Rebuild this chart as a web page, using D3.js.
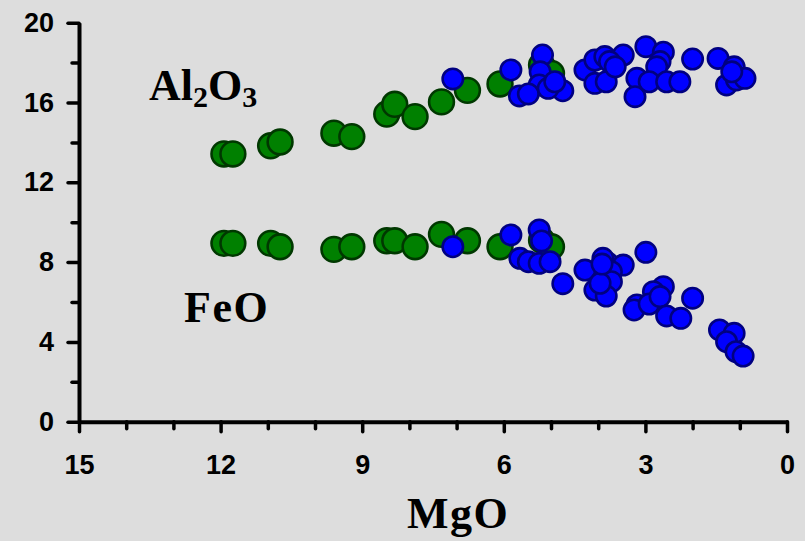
<!DOCTYPE html>
<html>
<head>
<meta charset="utf-8">
<script src="https://cdn.jsdelivr.net/npm/d3@7"></script>
<style>
  html, body { margin: 0; padding: 0; background: #dddddd; }
  svg { display: block; }
</style>
</head>
<body>
<svg id="chart" width="805" height="541"></svg>
<script>
// Lavas with MgO-rich (green) and evolved (blue) compositions, wt%
const greenMgO    = [11.93, 11.74, 10.94, 10.74, 9.60, 9.22, 8.48, 8.31, 7.88, 7.32, 6.77, 6.08, 5.20, 4.99];
const greenAl2O3  = [13.42, 13.42, 13.83, 14.02, 14.46, 14.29, 15.42, 15.91, 15.29, 16.03, 16.61, 16.93, 17.88, 17.46];
const greenFeO    = [8.94, 8.94, 8.94, 8.77, 8.64, 8.77, 9.07, 9.07, 8.77, 9.39, 9.07, 8.77, 9.10, 8.77];

const blueMgOAl   = [7.08, 5.85, 5.18, 5.23, 5.25, 5.67, 5.48, 4.75, 5.06, 4.92, 4.28, 4.07, 3.86, 3.47, 3.76, 4.07, 3.83, 3.64,
                     2.99, 2.62, 2.69, 2.76, 3.18, 3.22, 2.92, 2.55, 2.27, 2.00, 1.46, 1.12, 1.28, 1.07, 0.89, 1.17];
const blueAl2O3   = [17.18, 17.63, 18.38, 17.54, 16.88, 16.33, 16.43, 16.59, 16.71, 17.04, 17.63, 18.13, 18.30, 18.38, 18.05, 16.96, 17.04, 17.79,
                     18.80, 18.52, 18.05, 17.79, 17.21, 16.29, 17.04, 17.04, 17.04, 18.18, 18.21, 17.79, 16.88, 17.13, 17.21, 17.54];

const blueMgOFe   = [7.08, 5.85, 5.25, 5.20, 5.66, 5.48, 5.25, 5.02, 4.75, 4.28, 4.07, 3.79, 3.47, 3.72, 3.72, 3.83, 3.96, 3.90, 3.92,
                     2.99, 2.62, 2.83, 3.18, 3.24, 2.92, 2.69, 2.55, 2.25, 2.00, 1.43, 1.12, 1.28, 1.08, 0.93];
const blueFeO     = [8.77, 9.36, 9.61, 9.06, 8.19, 8.02, 7.94, 8.02, 6.92, 7.60, 6.60, 7.94, 7.85, 7.52, 7.02, 6.30, 6.94, 8.19, 7.90,
                     8.49, 6.77, 6.52, 5.85, 5.60, 5.90, 6.27, 5.30, 5.18, 6.19, 4.60, 4.43, 4.01, 3.51, 3.29];

const xMajorTicks = [15, 12, 9, 6, 3, 0];
const xMinorTicks = [14, 13, 11, 10, 8, 7, 5, 4, 2, 1];
const yMajorTicks = [0, 4, 8, 12, 16, 20];
const yMinorTicks = [2, 6, 10, 14, 18];

const svg = d3.select("#chart");

const x = d3.scaleLinear().domain([15, 0]).range([79, 787]);
const y = d3.scaleLinear().domain([0, 20]).range([421.7, 22.7]);

svg.append("rect").attr("width", 805).attr("height", 541).attr("fill", "#dddddd");

// Axes: minor ticks first, then major ticks with labels
function styleAxis(g, showDomain) {
  g.select(".domain").attr("stroke", showDomain ? "#000" : "none").attr("stroke-width", 4);
  g.selectAll(".tick line").attr("stroke", "#000").attr("stroke-width", 3.5).attr("stroke-linecap", "round");
  g.selectAll(".tick text")
    .attr("fill", "#000")
    .style("font-family", "'Liberation Sans', Arial, sans-serif")
    .style("font-weight", "bold")
    .style("font-size", "27px");
}

svg.append("g").attr("transform", `translate(0,${y(0)})`)
  .call(d3.axisBottom(x).tickValues(xMinorTicks).tickSize(7).tickSizeOuter(0).tickFormat(""))
  .call(g => styleAxis(g, false));
svg.append("g").attr("transform", `translate(0,${y(0)})`)
  .call(d3.axisBottom(x).tickValues(xMajorTicks).tickSize(10).tickSizeOuter(0).tickPadding(23).tickFormat(d3.format("d")))
  .call(g => styleAxis(g, true));

svg.append("g").attr("transform", `translate(${x(15)},0)`)
  .call(d3.axisLeft(y).tickValues(yMinorTicks).tickSize(7).tickSizeOuter(0).tickFormat(""))
  .call(g => styleAxis(g, false));
svg.append("g").attr("transform", `translate(${x(15)},0)`)
  .call(d3.axisLeft(y).tickValues(yMajorTicks).tickSize(11).tickSizeOuter(0).tickPadding(14).tickFormat(d3.format("d")))
  .call(g => styleAxis(g, true));

// Points
const greenAl = greenMgO.map((m, i) => [m, greenAl2O3[i]]);
const greenFe = greenMgO.map((m, i) => [m, greenFeO[i]]);
const blueAl = blueMgOAl.map((m, i) => [m, blueAl2O3[i]]);
const blueFe = blueMgOFe.map((m, i) => [m, blueFeO[i]]);

function drawPoints(data, r, fill, stroke) {
  svg.append("g").selectAll("circle").data(data).join("circle")
    .attr("cx", d => x(d[0]))
    .attr("cy", d => y(d[1]))
    .attr("r", r)
    .attr("fill", fill)
    .attr("stroke", stroke)
    .attr("stroke-width", 2.6);
}
drawPoints(greenAl, 12.4, "#008000", "#003800");
drawPoints(greenFe, 12.4, "#008000", "#003800");
drawPoints(blueAl, 10.2, "#0000ff", "#000080");
drawPoints(blueFe, 10.2, "#0000ff", "#000080");

// Labels
const serif = "'Liberation Serif', 'Times New Roman', serif";

const al = svg.append("text")
  .attr("x", 149).attr("y", 100)
  .style("font-family", serif).style("font-weight", "bold").style("font-size", "44px")
  .attr("fill", "#000");
al.append("tspan").text("Al");
al.append("tspan").text("2").style("font-size", "30px").attr("dy", 7);
al.append("tspan").text("O").attr("dy", -7);
al.append("tspan").text("3").style("font-size", "30px").attr("dy", 7);

svg.append("text")
  .attr("x", 184).attr("y", 322)
  .style("font-family", serif).style("font-weight", "bold").style("font-size", "44px")
  .style("letter-spacing", "1.5px")
  .attr("fill", "#000")
  .text("FeO");

svg.append("text")
  .attr("x", 407).attr("y", 528)
  .style("font-family", serif).style("font-weight", "bold").style("font-size", "44px")
  .style("letter-spacing", "1.5px")
  .attr("fill", "#000")
  .text("MgO");
</script>
</body>
</html>
